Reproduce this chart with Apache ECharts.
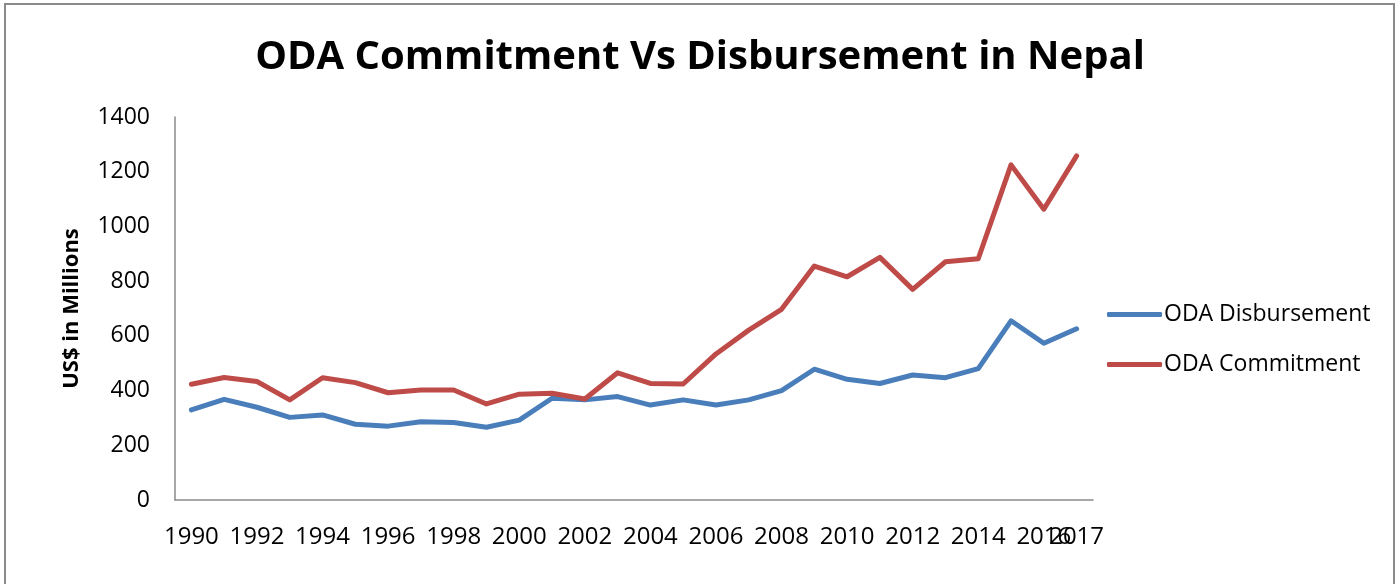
<!DOCTYPE html>
<html>
<head>
<meta charset="utf-8">
<title>ODA Commitment Vs Disbursement in Nepal</title>
<script src="https://cdn.jsdelivr.net/npm/echarts@6/dist/echarts.min.js"></script>
<style>
  html, body { margin: 0; padding: 0; background: #ffffff; }
  #chart { width: 1400px; height: 584px; }
</style>
</head>
<body>
<div id="chart"></div>
<script>
// Years on the horizontal axis
const years = ['1990','1991','1992','1993','1994','1995','1996','1997','1998','1999',
  '2000','2001','2002','2003','2004','2005','2006','2007','2008','2009',
  '2010','2011','2012','2013','2014','2015','2016','2017'];

// ODA disbursement, US$ millions
const disbursement = [329, 368, 339, 302, 311, 277, 270, 286, 283, 266,
  292, 372, 366, 378, 347, 366, 347, 366, 400, 478,
  441, 426, 457, 447, 480, 655, 573, 626];

// ODA commitment, US$ millions
const commitment = [423, 448, 433, 366, 447, 429, 392, 402, 402, 351,
  387, 390, 369, 465, 426, 424, 534, 621, 697, 855,
  816, 887, 770, 871, 882, 1225, 1063, 1258];

const fontFamily = '"Open Sans", "Noto Sans", sans-serif';
const lastIndex = years.length - 1;

const xLabelStyle = {
  hideOverlap: false,
  margin: 25,
  fontFamily: fontFamily,
  fontSize: 24,
  color: '#000000'
};

const chart = echarts.init(document.getElementById('chart'), null, { renderer: 'canvas' });

chart.setOption({
  backgroundColor: '#ffffff',
  animation: false,
  textStyle: { fontFamily: fontFamily },
  title: {
    text: 'ODA Commitment Vs Disbursement in Nepal',
    left: 'center',
    top: 33,
    textStyle: { fontFamily: fontFamily, fontSize: 40, fontWeight: 'bold', color: '#000000' }
  },
  // outer frame
  graphic: [{
    type: 'polyline',
    shape: { points: [[5, 600], [5, 4], [1394, 4], [1394, 600]] },
    style: { stroke: '#8a8a8a', lineWidth: 2, fill: null },
    silent: true
  }],
  legend: {
    orient: 'vertical',
    left: 1102,
    top: 298,
    icon: 'roundRect',
    itemWidth: 55,
    itemHeight: 5,
    itemGap: 27,
    textStyle: { fontFamily: fontFamily, fontSize: 23, color: '#000000', padding: [0, 0, 0, -3] },
    data: ['ODA Disbursement', 'ODA Commitment']
  },
  grid: { left: 175, right: 307, top: 117, bottom: 84, containLabel: false },
  xAxis: [
    {
      // even years along the baseline
      type: 'category',
      data: years,
      boundaryGap: true,
      axisLine: { lineStyle: { color: '#8a8a8a', width: 1.5 } },
      axisTick: { show: false },
      axisLabel: Object.assign({
        interval: function (index) { return index % 2 === 0; }
      }, xLabelStyle),
      splitLine: { show: false }
    },
    {
      // final year, drawn on its own so it can sit over 2016
      type: 'category',
      data: years,
      position: 'bottom',
      boundaryGap: true,
      axisLine: { show: false },
      axisTick: { show: false },
      axisLabel: Object.assign({
        interval: function (index) { return index === lastIndex; }
      }, xLabelStyle),
      splitLine: { show: false }
    }
  ],
  yAxis: {
    type: 'value',
    min: 0,
    max: 1400,
    interval: 200,
    name: 'US$ in Millions',
    nameLocation: 'middle',
    nameGap: 92,
    nameRotate: 90,
    nameTextStyle: { fontFamily: fontFamily, fontSize: 22, fontWeight: 'bold', color: '#000000' },
    axisLine: { show: true, lineStyle: { color: '#8a8a8a', width: 1.5 } },
    axisTick: { show: false },
    axisLabel: {
      margin: 25,
      fontFamily: fontFamily,
      fontSize: 23,
      color: '#000000',
      formatter: function (v) { return String(v); }
    },
    splitLine: { show: false }
  },
  series: [
    {
      name: 'ODA Disbursement',
      type: 'line',
      xAxisIndex: 0,
      data: disbursement,
      symbol: 'none',
      color: '#4a7ebb',
      lineStyle: { color: '#4a7ebb', width: 5, cap: 'round', join: 'round' }
    },
    {
      name: 'ODA Commitment',
      type: 'line',
      xAxisIndex: 0,
      data: commitment,
      symbol: 'none',
      color: '#be4b48',
      lineStyle: { color: '#be4b48', width: 5, cap: 'round', join: 'round' }
    }
  ]
});
</script>
</body>
</html>
